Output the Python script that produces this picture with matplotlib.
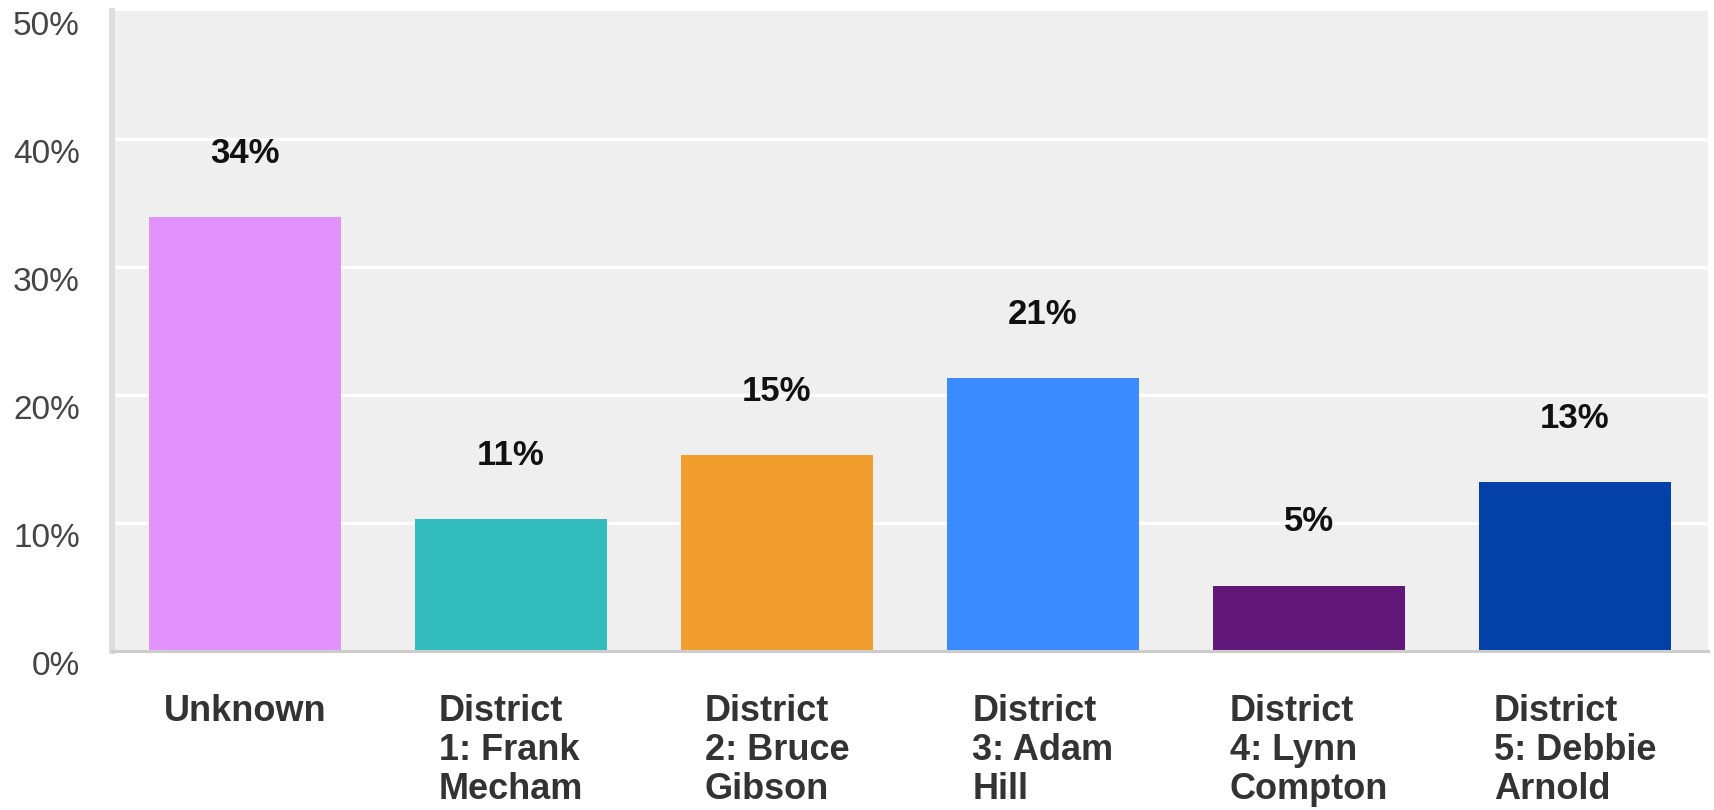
import matplotlib.pyplot as plt
import matplotlib.transforms as mtransforms

# data
categories = ["Unknown", "District\n1: Frank\nMecham", "District\n2: Bruce\nGibson",
              "District\n3: Adam\nHill", "District\n4: Lynn\nCompton", "District\n5: Debbie\nArnold"]
values = [33.9, 10.3, 15.3, 21.3, 5.1, 13.2]
value_labels = ["34%", "11%", "15%", "21%", "5%", "13%"]
colors = ["#e293fb", "#33bcbe", "#f19e2f", "#3b8aff", "#611878", "#0341a8"]
yticks = [0, 10, 20, 30, 40, 50]
ytick_labels = ["0%", "10%", "20%", "30%", "40%", "50%"]

plt.rcParams['font.family'] = ['Liberation Sans', 'DejaVu Sans']

fig = plt.figure(figsize=(17.15, 8.10), dpi=100)
ax = fig.add_axes([0.0653, 0.1963, 0.9306, 0.790])
ax.set_facecolor("#efefef")

x = range(len(categories))
ax.bar(x, values, width=0.724, color=colors, zorder=3)

# value labels sit a fixed distance above each bar
for i, v in enumerate(values):
    ax.text(i, v + 5, value_labels[i], ha="center", va="center",
            fontsize=25, fontweight="bold", color="#111111", zorder=4)

# white gridlines
for g in yticks[1:-1]:
    ax.axhline(g, color="white", linewidth=2.4, zorder=1)

ax.set_xlim(-0.5, 5.5)
ax.set_ylim(0, 50)

ax.set_yticks(yticks)
ax.set_yticklabels(ytick_labels, fontsize=24, color="#444444")
ax.tick_params(axis="y", length=0, pad=23)
offset = mtransforms.ScaledTranslation(0, -12 / 100, fig.dpi_scale_trans)
for lab in ax.get_yticklabels():
    lab.set_transform(lab.get_transform() + offset)

ax.set_xticks(list(x))
ax.set_xticklabels(categories, fontsize=26, fontweight="bold", color="#333333",
                   multialignment="left", linespacing=1.15)
ax.tick_params(axis="x", length=0, pad=31)

for side in ["top", "right"]:
    ax.spines[side].set_visible(False)
ax.spines["left"].set_color("#dddddd")
ax.spines["left"].set_linewidth(4.3)
ax.spines["bottom"].set_color("#cccccc")
ax.spines["bottom"].set_linewidth(2.2)
ax.spines["left"].set_zorder(5)
ax.spines["bottom"].set_zorder(5)

fig.savefig("out.png", dpi=100)
